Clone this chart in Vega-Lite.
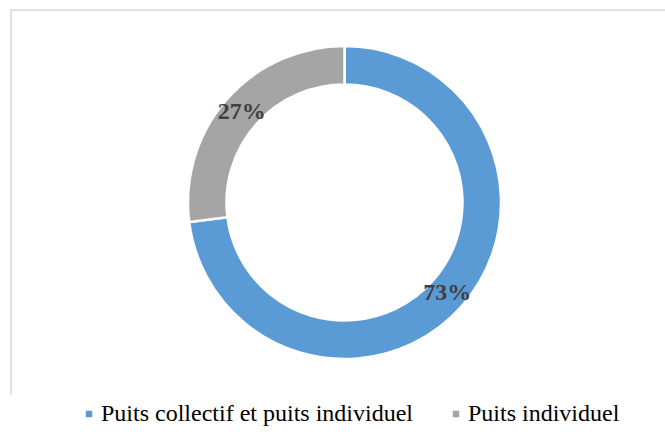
{
  "$schema": "https://vega.github.io/schema/vega-lite/v6.json",
  "width": 667,
  "height": 385,
  "padding": {"left": 11, "top": 10, "right": 0, "bottom": 0},
  "background": "white",
  "view": {"stroke": "#d9d9d9", "strokeWidth": 1.5, "strokeDash": [1052, 667, 385]},
  "data": {
    "values": [
      {"category": "Puits collectif et puits individuel", "value": 73, "label": "73%"},
      {"category": "Puits individuel", "value": 27, "label": "27%"}
    ]
  },
  "encoding": {
    "theta": {"field": "value", "type": "quantitative", "stack": true},
    "order": {"field": "category", "sort": "ascending"}
  },
  "layer": [
    {
      "mark": {"type": "arc", "outerRadius": 156.5, "innerRadius": 118, "stroke": "white", "strokeWidth": 2.5},
      "encoding": {
        "color": {
          "field": "category",
          "type": "nominal",
          "scale": {"domain": ["Puits collectif et puits individuel", "Puits individuel"], "range": ["#5B9BD5", "#A5A5A5"]},
          "legend": {
            "title": null,
            "orient": "none",
            "direction": "horizontal",
            "legendX": 66,
            "legendY": 392,
            "symbolType": "square",
            "symbolSize": 42,
            "symbolStrokeWidth": 0,
            "labelFont": "Liberation Serif",
            "labelFontSize": 24,
            "labelColor": "#000000",
            "labelOffset": 0,
            "labelLimit": 0,
            "columnPadding": 31
          }
        }
      }
    },
    {
      "mark": {"type": "text", "radius": 137, "font": "Liberation Serif", "fontSize": 24, "fontWeight": "bold", "color": "#404040", "align": "center", "baseline": "middle"},
      "encoding": {
        "detail": {"field": "category", "type": "nominal"},
        "text": {"field": "label", "type": "nominal"}
      }
    }
  ]
}
